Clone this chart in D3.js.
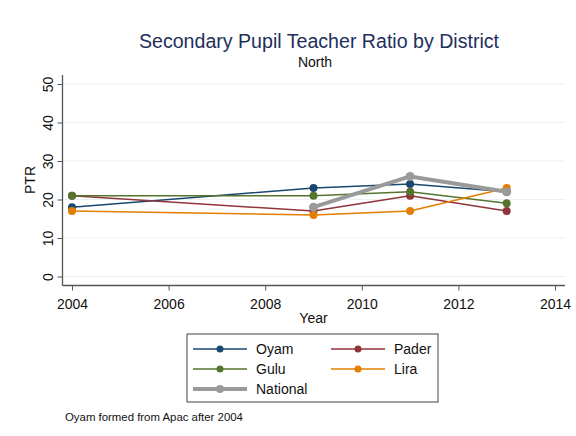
<!DOCTYPE html>
<html>
<head>
<meta charset="utf-8">
<script src="https://cdn.jsdelivr.net/npm/d3@7"></script>
<style>
  html, body { margin: 0; padding: 0; background: #ffffff; }
  svg { display: block; font-family: "Liberation Sans", Arial, sans-serif; }
</style>
</head>
<body>
<svg id="chart" width="576" height="436"></svg>
<script>
// Pupil–teacher ratio in secondary schools, Northern districts
const years = [2004, 2009, 2011, 2013];
const oyam = [18, 23, 24, 22];
const pader = [21, 17, 21, 17];
const gulu = [21, 21, 22, 19];
const lira = [17, 16, 17, 23];
const nationalYears = [2009, 2011, 2013];
const national = [18, 26, 22];

const xTicks = [2004, 2006, 2008, 2010, 2012, 2014];
const yTicks = [0, 10, 20, 30, 40, 50];

const series = [
  { name: "Oyam", x: years, y: oyam, color: "#1a476f", width: 1.5, r: 4 },
  { name: "Pader", x: years, y: pader, color: "#90353b", width: 1.5, r: 4 },
  { name: "Gulu", x: years, y: gulu, color: "#55752f", width: 1.5, r: 4 },
  { name: "Lira", x: years, y: lira, color: "#e37e00", width: 1.5, r: 4 },
  { name: "National", x: nationalYears, y: national, color: "#9a9a9a", width: 4, r: 4.5 }
];

const svg = d3.select("#chart");
const plot = { left: 62.5, right: 565, top: 75, bottom: 285.5 };

const x = d3.scaleLinear().domain([2004, 2014]).range([72, 555]);
const y = d3.scaleLinear().domain([0, 50]).range([276.5, 84]);

// gridlines
svg.append("g").selectAll("line").data(yTicks).join("line")
  .attr("x1", plot.left).attr("x2", plot.right)
  .attr("y1", d => y(d)).attr("y2", d => y(d))
  .attr("stroke", "#eaf2f3").attr("stroke-width", 1.2);

// y axis
const yAxis = svg.append("g")
  .attr("transform", `translate(${plot.left},0)`)
  .call(d3.axisLeft(y).tickValues(yTicks).tickSize(5).tickPadding(4).tickSizeOuter(0));
yAxis.select(".domain").attr("d", `M0,${plot.top}V${plot.bottom}`).attr("stroke", "#555").attr("stroke-width", 1.3);
yAxis.selectAll(".tick line").attr("stroke", "#555");
yAxis.selectAll(".tick text")
  .attr("font-size", 14).attr("fill", "#111")
  .attr("transform", "rotate(-90)")
  .attr("x", 0).attr("y", -10).attr("dy", 0)
  .attr("text-anchor", "middle");

// x axis
const xAxis = svg.append("g")
  .attr("transform", `translate(0,${plot.bottom})`)
  .call(d3.axisBottom(x).tickValues(xTicks).tickFormat(d3.format("d")).tickSize(5).tickSizeOuter(0));
xAxis.select(".domain").attr("d", `M${plot.left},0H${plot.right}`).attr("stroke", "#555").attr("stroke-width", 1.3);
xAxis.selectAll(".tick line").attr("stroke", "#555");
xAxis.selectAll(".tick text")
  .attr("font-size", 14).attr("fill", "#111")
  .attr("y", 23).attr("dy", 0);

// axis titles
svg.append("text").attr("x", 313.5).attr("y", 323).attr("text-anchor", "middle")
  .attr("font-size", 14).attr("fill", "#111").text("Year");
svg.append("text").attr("transform", "translate(35,180) rotate(-90)").attr("text-anchor", "middle")
  .attr("font-size", 14).attr("fill", "#111").text("PTR");

// series lines and markers
const line = d3.line().x(d => x(d[0])).y(d => y(d[1]));
series.forEach(s => {
  const pts = s.x.map((v, i) => [v, s.y[i]]);
  const g = svg.append("g");
  g.append("path").datum(pts).attr("d", line)
    .attr("fill", "none").attr("stroke", s.color).attr("stroke-width", s.width)
    .attr("stroke-linejoin", "round");
  g.selectAll("circle").data(pts).join("circle")
    .attr("cx", d => x(d[0])).attr("cy", d => y(d[1])).attr("r", s.r)
    .attr("fill", s.color);
});

// titles
svg.append("text").attr("x", 319).attr("y", 48).attr("text-anchor", "middle")
  .attr("font-size", 19.6).attr("fill", "#1e2f5c")
  .text("Secondary Pupil Teacher Ratio by District");
svg.append("text").attr("x", 315).attr("y", 67).attr("text-anchor", "middle")
  .attr("font-size", 14).attr("fill", "#111").text("North");

// legend
const lg = svg.append("g");
lg.append("rect").attr("x", 187).attr("y", 334).attr("width", 251).attr("height", 68)
  .attr("fill", "#fff").attr("stroke", "#444").attr("stroke-width", 1);
const legendPos = [
  { s: series[0], col: 0, row: 0 },
  { s: series[1], col: 1, row: 0 },
  { s: series[2], col: 0, row: 1 },
  { s: series[3], col: 1, row: 1 },
  { s: series[4], col: 0, row: 2 }
];
const colX = [193, 331];
const rowY = [349, 369, 389];
legendPos.forEach(p => {
  const x0 = colX[p.col], yy = rowY[p.row];
  lg.append("line").attr("x1", x0).attr("x2", x0 + 54).attr("y1", yy).attr("y2", yy)
    .attr("stroke", p.s.color).attr("stroke-width", p.s.width);
  lg.append("circle").attr("cx", x0 + 27).attr("cy", yy).attr("r", p.s.r - 0.5).attr("fill", p.s.color);
  lg.append("text").attr("x", x0 + 63).attr("y", yy + 5).attr("font-size", 14).attr("fill", "#111")
    .text(p.s.name);
});

// note
svg.append("text").attr("x", 65).attr("y", 421).attr("font-size", 11.4).attr("fill", "#111")
  .text("Oyam formed from Apac after 2004");
</script>
</body>
</html>
